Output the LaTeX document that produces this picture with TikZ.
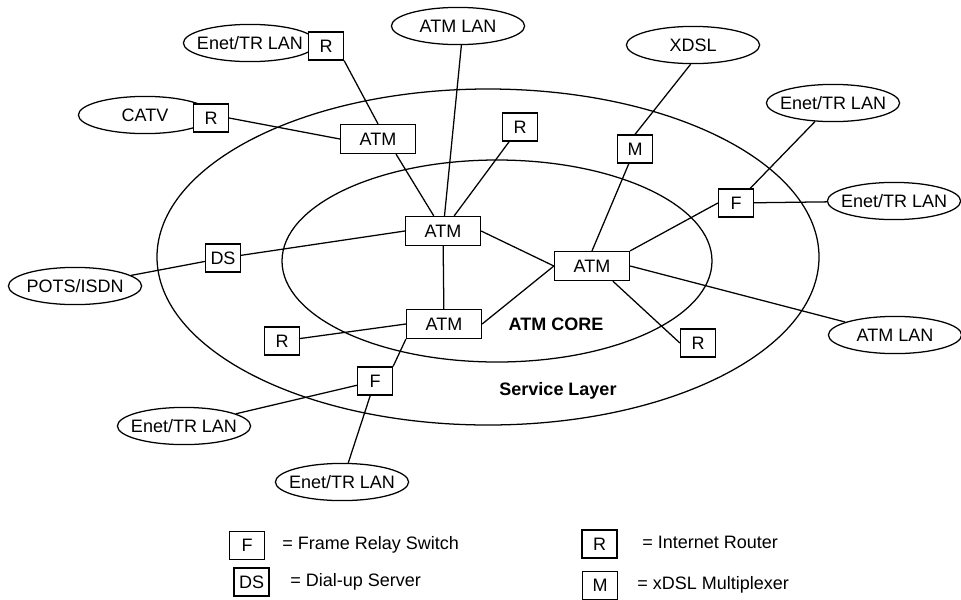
\documentclass[tikz,border=0pt]{standalone}
\usepackage{fontspec}
\setmainfont{Liberation Sans}
\usetikzlibrary{shapes.geometric}
\tikzset{
  every picture/.style={font=\fontsize{12.8}{15}\selectfont, line width=0.9pt},
  dev/.style={draw, fill=white, minimum width=0.875cm, minimum height=0.7cm, inner sep=0pt},
  atm/.style={dev, minimum width=1.875cm, minimum height=0.725cm},
  lan/.style={draw, ellipse, minimum width=3.33cm, minimum height=0.93cm, inner xsep=-4mm, inner ysep=0pt},
  link/.style={draw, line width=0.9pt},
  tag/.style={font=\fontsize{12.8}{15}\selectfont\bfseries},
  key/.style={anchor=base west},
}

\begin{document}
\begin{tikzpicture}
  \path[use as bounding box, fill=white] (0,0) rectangle (24.025,-14.975);
  \draw (12.2,-6.425) ellipse [x radius=8.275, y radius=4.2];
  \draw (12.425,-6.525) ellipse [x radius=5.375, y radius=2.525];
  \node[tag] (core) at (13.9,-8.1) {ATM CORE};
  \node[tag] (svc) at (13.95,-9.775) {Service Layer};

  \node[lan] (lanTL) at (6.25,-1.075) {Enet/TR LAN};
  \node[lan] (catv) at (3.625,-2.875) {CATV};
  \node[lan] (atmLanT) at (11.45,-0.65) {ATM LAN};
  \node[lan] (xdsl) at (17.325,-1.125) {XDSL};
  \node[lan] (lanTR) at (20.825,-2.575) {Enet/TR LAN};
  \node[lan] (lanR) at (22.35,-5.025) {Enet/TR LAN};
  \node[lan] (atmLanR) at (22.375,-8.375) {ATM LAN};
  \node[lan] (pots) at (1.875,-7.15) {POTS/ISDN};
  \node[lan] (lanBL) at (4.6,-10.65) {Enet/TR LAN};
  \node[lan] (lanB) at (8.55,-12.05) {Enet/TR LAN};

  \node[dev] (rTL) at (8.15,-1.15) {R};
  \node[dev] (rCatv) at (5.275,-2.95) {R};
  \node[atm] (atmS) at (9.45,-3.475) {ATM};
  \node[dev] (rIn) at (13.0,-3.175) {R};
  \node[dev] (mux) at (15.875,-3.725) {M};
  \node[dev] (fR) at (18.4,-5.075) {F};
  \node[atm] (atmA) at (11.075,-5.775) {ATM};
  \node[dev] (ds) at (5.575,-6.45) {DS};
  \node[atm] (atmC) at (14.8,-6.65) {ATM};
  \node[atm] (atmB) at (11.1,-8.1) {ATM};
  \node[dev] (rBL) at (7.05,-8.525) {R};
  \node[dev] (fB) at (9.375,-9.525) {F};
  \node[dev] (rBR) at (17.45,-8.575) {R};

  \draw[link] (rTL.south east) -- (atmS.north);
  \draw[link] (rCatv.east) -- (atmS.west);
  \draw[link] (atmS.-40) -- (atmA);
  \draw[link] (atmLanT.-80) -- (atmA);
  \draw[link] (rIn) -- (atmA);
  \draw[link] (pots) -- (ds); \draw[link] (ds) -- (atmA.west);
  \draw[link] (atmA) -- (atmB);
  \draw[link] (atmA.east) -- (atmC.west); \draw[link] (atmB.east) -- (atmC.west);
  \draw[link] (atmC.north) -- (mux); \draw[link] (mux.north) -- (xdsl.-97);
  \draw[link] (atmC.north east) -- (fR.west);
  \draw[link] (fR) -- (lanTR); \draw[link] (fR) -- (lanR);
  \draw[link] (atmC.east) -- (atmLanR);
  \draw[link] (atmC.-36) -- (rBR.west);
  \draw[link] (rBL) -- (atmB.west);
  \draw[link] (atmB.south west) -- (fB.north east);
  \draw[link] (fB) -- (lanBL); \draw[link] (fB) -- (lanB);

  \node[dev] (kF) at (6.175,-13.64) {F};
  \node[key] (tF) at (6.925,-13.725) {= Frame Relay Switch};
  \node[dev] (kDS) at (6.29,-14.55) {DS};
  \node[key] (tDS) at (7.125,-14.65) {= Dial-up Server};
  \node[dev] (kR) at (14.99,-13.6) {R};
  \node[key] (tR) at (15.925,-13.7) {= Internet Router};
  \node[dev] (kM) at (15.0,-14.64) {M};
  \node[key] (tM) at (15.8,-14.725) {= xDSL Multiplexer};
\end{tikzpicture}
\end{document}
